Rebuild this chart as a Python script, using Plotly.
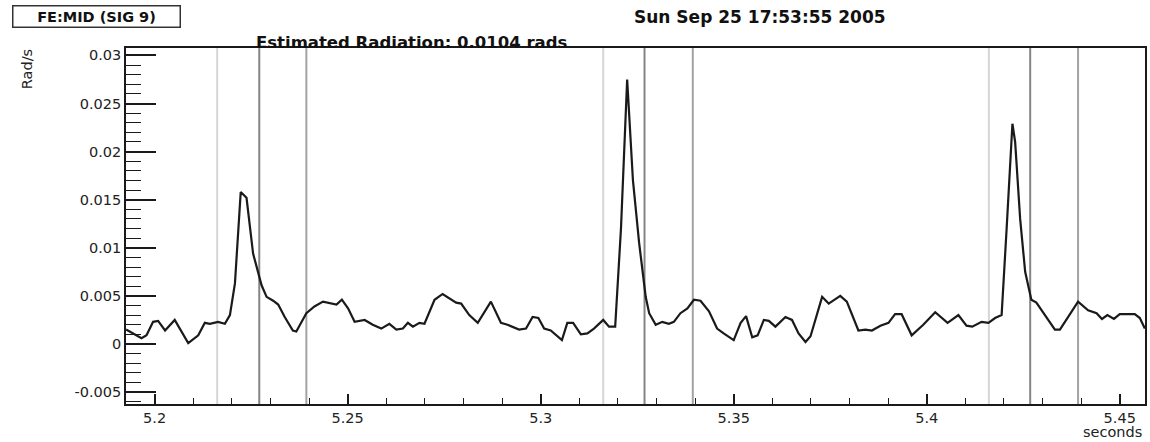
import plotly.graph_objects as go

# ---- data ----
t_sec = [5.1926, 5.1966, 5.1979, 5.1996, 5.2009, 5.2027, 5.2052, 5.2087, 5.2113, 5.2130,
         5.2143, 5.2164, 5.2182, 5.2195, 5.2208, 5.2223, 5.2238, 5.2255, 5.2277, 5.2290,
         5.2307, 5.2320, 5.2337, 5.2358, 5.2367, 5.2393, 5.2414, 5.2436, 5.2471, 5.2485,
         5.2501, 5.2518, 5.2544, 5.2565, 5.2587, 5.2608, 5.2626, 5.2643, 5.2656, 5.2669,
         5.2686, 5.2699, 5.2725, 5.2746, 5.2781, 5.2794, 5.2815, 5.2837, 5.2871, 5.2897,
         5.2914, 5.2944, 5.2962, 5.2979, 5.2994, 5.3009, 5.3026, 5.3055, 5.3069, 5.3084,
         5.3104, 5.3121, 5.3138, 5.3162, 5.3177, 5.3193, 5.3208, 5.3224, 5.3239, 5.3255,
         5.3272, 5.3281, 5.3298, 5.3315, 5.3332, 5.3345, 5.3362, 5.3380, 5.3397, 5.3414,
         5.3436, 5.3457, 5.3474, 5.3500, 5.3518, 5.3532, 5.3548, 5.3562, 5.3578, 5.3591,
         5.3608, 5.3634, 5.3651, 5.3668, 5.3686, 5.3699, 5.3729, 5.3746, 5.3776, 5.3793,
         5.3823, 5.3841, 5.3858, 5.3880, 5.3901, 5.3918, 5.3935, 5.3961, 5.3991, 5.4022,
         5.4054, 5.4082, 5.4103, 5.4118, 5.4142, 5.4160, 5.4177, 5.4194, 5.4207, 5.4222,
         5.4229, 5.4242, 5.4255, 5.4271, 5.4284, 5.4332, 5.4345, 5.4392, 5.4418, 5.4440,
         5.4454, 5.4468, 5.4485, 5.4500, 5.4539, 5.4552, 5.4565]
rate = [0.0015, 0.0006, 0.0009, 0.0023, 0.0024, 0.0014, 0.0025, 0.0001, 0.0009, 0.0022,
        0.0021, 0.0023, 0.0021, 0.0030, 0.0063, 0.0158, 0.0152, 0.0094, 0.0061, 0.0049,
        0.0045, 0.0041, 0.0028, 0.0014, 0.0013, 0.0032, 0.0039, 0.0044, 0.0041, 0.0046,
        0.0037, 0.0023, 0.0025, 0.0020, 0.0016, 0.0021, 0.0015, 0.0016, 0.0022, 0.0018,
        0.0022, 0.0021, 0.0046, 0.0052, 0.0043, 0.0042, 0.0030, 0.0022, 0.0044, 0.0022,
        0.0020, 0.0015, 0.0016, 0.0028, 0.0027, 0.0016, 0.0014, 0.0004, 0.0022, 0.0022,
        0.0010, 0.0011, 0.0016, 0.0025, 0.0018, 0.0018, 0.0120, 0.0275, 0.0170, 0.0105,
        0.0049, 0.0032, 0.0020, 0.0023, 0.0021, 0.0023, 0.0032, 0.0037, 0.0046, 0.0045,
        0.0034, 0.0016, 0.0011, 0.0004, 0.0022, 0.0029, 0.0007, 0.0009, 0.0025, 0.0024,
        0.0018, 0.0028, 0.0025, 0.0011, 0.0002, 0.0008, 0.0049, 0.0042, 0.0050, 0.0044,
        0.0014, 0.0015, 0.0014, 0.0019, 0.0022, 0.0031, 0.0031, 0.0009, 0.0020, 0.0033,
        0.0022, 0.0030, 0.0019, 0.0018, 0.0023, 0.0022, 0.0027, 0.0030, 0.0120, 0.0229,
        0.0210, 0.0130, 0.0075, 0.0046, 0.0043, 0.0015, 0.0015, 0.0044, 0.0035, 0.0032,
        0.0026, 0.0030, 0.0026, 0.0031, 0.0031, 0.0027, 0.0016]

marker_light = [5.2162, 5.3162, 5.4161]
marker_dark = [5.2271, 5.3269, 5.4268]
marker_mid = [5.2393, 5.3394, 5.4392]

x_ticks = [5.20, 5.25, 5.30, 5.35, 5.40, 5.45]
x_ticktext = ["5.2", "5.25", "5.3", "5.35", "5.4", "5.45"]
y_ticks = [-0.005, 0.0, 0.005, 0.01, 0.015, 0.02, 0.025, 0.03]
y_ticktext = ["-0.005", "0", "0.005", "0.01", "0.015", "0.02", "0.025", "0.03"]

x_range = [5.19258, 5.45654]
y_range = [-0.00624, 0.03077]

channel_label = "FE:MID (SIG 9)"
date_label = "Sun Sep 25 17:53:55 2005"
radiation_label = "Estimated Radiation: 0.0104 rads"
y_title = "Rad/s"
x_title = "seconds"

FONT = "DejaVu Sans"
INK = "#1a1a1a"

fig = go.Figure()
fig.add_trace(go.Scatter(x=t_sec, y=rate, mode="lines",
                         line=dict(color=INK, width=2.2), showlegend=False,
                         hoverinfo="skip"))

shapes = []
for xs, col in ((marker_light, "#d6d6d6"), (marker_dark, "#858585"), (marker_mid, "#a3a3a3")):
    for xv in xs:
        shapes.append(dict(type="line", xref="x", yref="paper", x0=xv, x1=xv, y0=0, y1=1,
                           line=dict(color=col, width=2), layer="below"))

W, H = 1150, 442
L, R, T, B = 126, 3, 48, 38
pw, ph = W - L - R, H - T - B

def px(xp):
    return (xp - L) / pw

def py(yp):
    return (H - B - yp) / ph

annotations = [
    dict(text=channel_label, x=px(96), y=py(16.5), xref="paper", yref="paper",
         xanchor="center", yanchor="middle", showarrow=False,
         font=dict(family=FONT, size=14.5, color="#111", weight="bold"),
         bordercolor="#333", borderwidth=1.5, borderpad=2, bgcolor="white",
         width=162, height=16),
    dict(text=date_label, x=px(761.5), y=py(17), xref="paper", yref="paper",
         xanchor="center", yanchor="middle", showarrow=False,
         font=dict(family=FONT, size=17, color="#111", weight="bold")),
    dict(text=radiation_label, x=px(254), y=py(42.5), xref="paper", yref="paper",
         xanchor="left", yanchor="middle", showarrow=False,
         font=dict(family=FONT, size=16.5, color="#111", weight="bold")),
    dict(text=y_title, x=px(27), y=py(69), xref="paper", yref="paper",
         xanchor="center", yanchor="middle", showarrow=False, textangle=-90,
         font=dict(family=FONT, size=14.5, color="#222")),
    dict(text=x_title, x=px(1146), y=py(432.5), xref="paper", yref="paper",
         xanchor="right", yanchor="middle", showarrow=False,
         font=dict(family=FONT, size=14.5, color="#222")),
]

fig.update_layout(
    width=W, height=H,
    margin=dict(l=L, r=R, t=T, b=B, pad=0),
    paper_bgcolor="white", plot_bgcolor="white",
    shapes=shapes, annotations=annotations,
    font=dict(family=FONT, size=14.5, color="#222"),
    xaxis=dict(range=x_range, tickvals=x_ticks, ticktext=x_ticktext,
               ticks="inside", ticklen=10, tickwidth=1.5, tickcolor=INK,
               minor=dict(dtick=0.01, tick0=5.2, ticks="inside", ticklen=6,
                          tickwidth=1.3, tickcolor=INK, showgrid=False),
               showline=True, linecolor=INK, linewidth=1.6, mirror=True,
               showgrid=False, zeroline=False,
               tickfont=dict(family=FONT, size=14.5, color="#222")),
    yaxis=dict(range=y_range, tickvals=y_ticks, ticktext=y_ticktext,
               ticks="inside", ticklen=30, tickwidth=1.5, tickcolor=INK,
               minor=dict(dtick=0.001, tick0=0, ticks="inside", ticklen=15,
                          tickwidth=1.3, tickcolor=INK, showgrid=False),
               showline=True, linecolor=INK, linewidth=1.6, mirror=True,
               showgrid=False, zeroline=False,
               tickfont=dict(family=FONT, size=14.5, color="#222")),
)

fig.write_html("out.html",
               config={"displayModeBar": False},
               post_script="document.body.style.margin='0px';"
                           "document.documentElement.style.overflow='hidden';")
